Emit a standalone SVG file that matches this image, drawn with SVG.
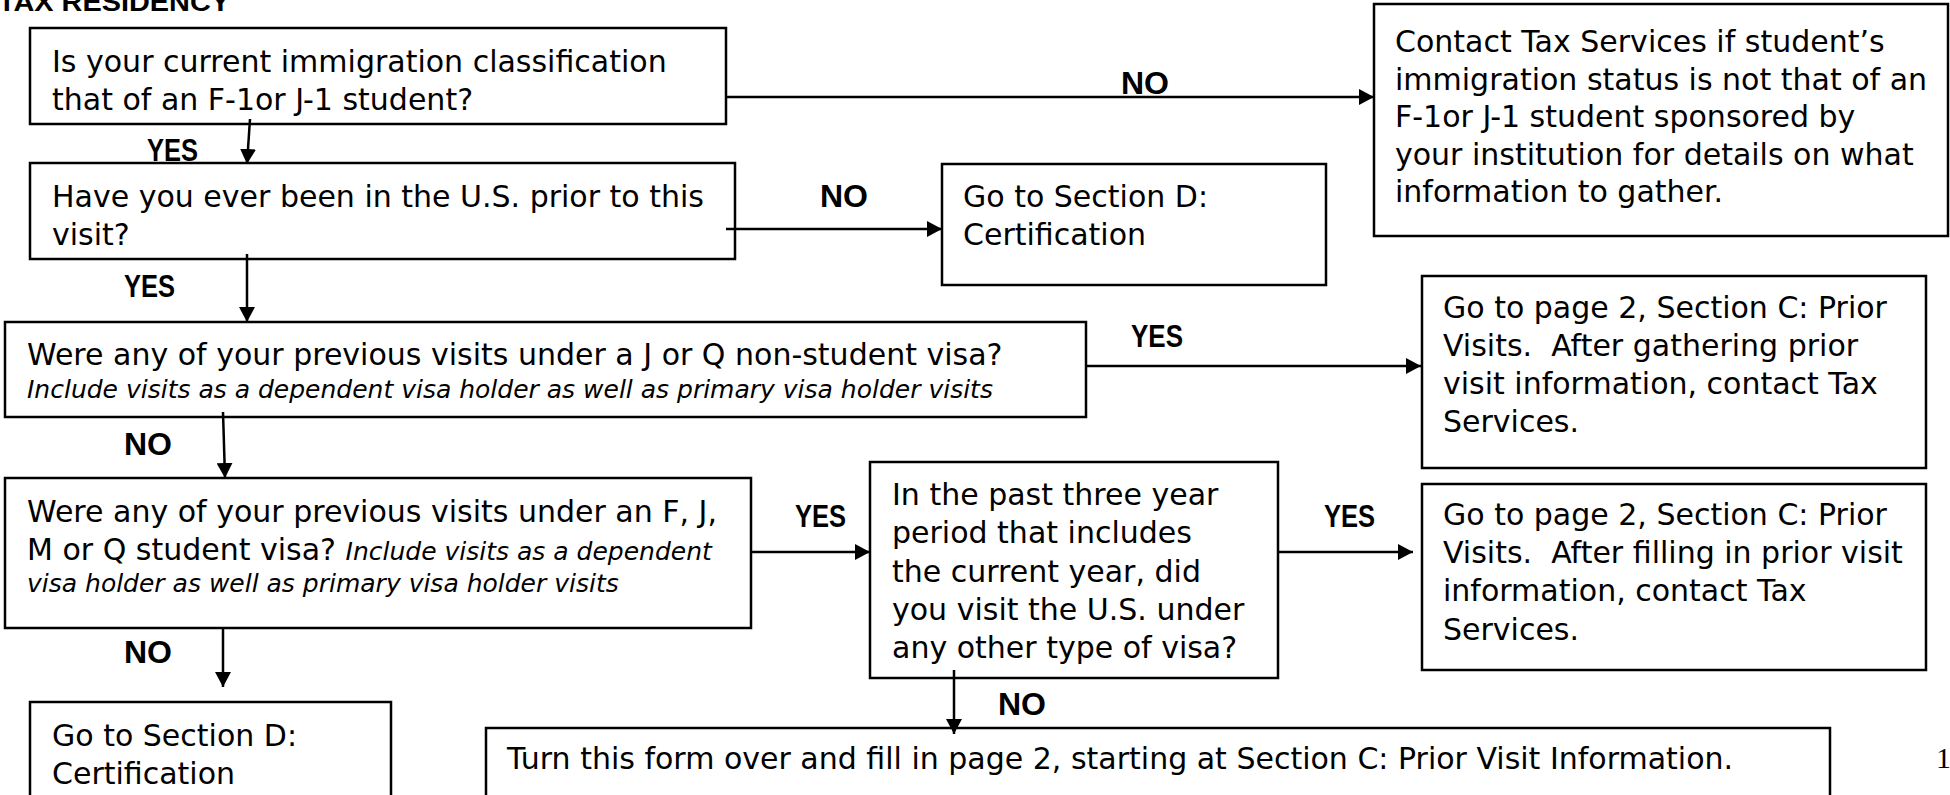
<svg xmlns="http://www.w3.org/2000/svg" width="1950" height="795" viewBox="0 0 1950 795">
<style>
.box{fill:#fff;stroke:#000;stroke-width:2.5}
.t{font-family:"DejaVu Sans","Liberation Sans",sans-serif;font-size:30px;fill:#000}
.i{font-style:italic;font-size:25px}
.lbl{font-family:"Liberation Sans",Arial,sans-serif;font-weight:bold;font-size:31px;fill:#000}
.conn{stroke:#000;stroke-width:2.5;fill:none;marker-end:url(#arr)}
.title{font-family:"Liberation Sans",Arial,sans-serif;font-weight:bold;font-size:26px;fill:#000}
.pg{font-family:"Liberation Serif","Times New Roman",serif;font-size:30px;fill:#000}
</style>
<defs>
<marker id="arr" markerUnits="userSpaceOnUse" markerWidth="16" markerHeight="16" viewBox="0 0 16 16" refX="15" refY="8" orient="auto">
<path d="M0,0 L15,8 L0,16 z" fill="#000"/>
</marker>
</defs>
<rect width="1950" height="795" fill="#fff"/>
<text class="title" x="-2" y="11" textLength="232" lengthAdjust="spacingAndGlyphs">TAX RESIDENCY</text>

<g id="q1">
<rect class="box" x="30" y="28" width="696" height="96"/>
<text class="t" x="52" y="72">Is your current immigration classification</text>
<text class="t" x="52" y="110">that of an F-1or J-1 student?</text>
</g>

<g id="contact">
<rect class="box" x="1374" y="4" width="574" height="232"/>
<text class="t" x="1395" y="52">Contact Tax Services if student’s</text>
<text class="t" x="1395" y="89.5">immigration status is not that of an</text>
<text class="t" x="1395" y="127">F-1or J-1 student sponsored by</text>
<text class="t" x="1395" y="164.5">your institution for details on what</text>
<text class="t" x="1395" y="202">information to gather.</text>
</g>

<g id="q2">
<rect class="box" x="30" y="163" width="705" height="96"/>
<text class="t" x="52" y="207">Have you ever been in the U.S. prior to this</text>
<text class="t" x="52" y="245">visit?</text>
</g>

<g id="certA">
<rect class="box" x="942" y="164" width="384" height="121"/>
<text class="t" x="963" y="207">Go to Section D:</text>
<text class="t" x="963" y="245">Certification</text>
</g>

<g id="q3">
<rect class="box" x="5" y="322" width="1081" height="95"/>
<text class="t" x="27" y="365">Were any of your previous visits under a J or Q non-student visa?</text>
<text class="t i" x="27" y="398">Include visits as a dependent visa holder as well as primary visa holder visits</text>
</g>

<g id="gather">
<rect class="box" x="1422" y="276" width="504" height="192"/>
<text class="t" x="1443" y="318">Go to page 2, Section C: Prior</text>
<text class="t" x="1443" y="356">Visits.&#160; After gathering prior</text>
<text class="t" x="1443" y="394">visit information, contact Tax</text>
<text class="t" x="1443" y="432">Services.</text>
</g>

<g id="q4">
<rect class="box" x="5" y="478" width="746" height="150"/>
<text class="t" x="27" y="522">Were any of your previous visits under an F, J,</text>
<text class="t" x="27" y="560">M or Q student visa? <tspan class="i">Include visits as a dependent</tspan></text>
<text class="t i" x="27" y="592">visa holder as well as primary visa holder visits</text>
</g>

<g id="q5">
<rect class="box" x="870" y="462" width="408" height="216"/>
<text class="t" x="892" y="505">In the past three year</text>
<text class="t" x="892" y="543">period that includes</text>
<text class="t" x="892" y="582">the current year, did</text>
<text class="t" x="892" y="620">you visit the U.S. under</text>
<text class="t" x="892" y="658">any other type of visa?</text>
</g>

<g id="filling">
<rect class="box" x="1422" y="484" width="504" height="186"/>
<text class="t" x="1443" y="525">Go to page 2, Section C: Prior</text>
<text class="t" x="1443" y="563">Visits.&#160; After filling in prior visit</text>
<text class="t" x="1443" y="601">information, contact Tax</text>
<text class="t" x="1443" y="640">Services.</text>
</g>

<g id="certB">
<rect class="box" x="30" y="702" width="361" height="110"/>
<text class="t" x="52" y="746">Go to Section D:</text>
<text class="t" x="52" y="784">Certification</text>
</g>

<g id="turn">
<rect class="box" x="486" y="728" width="1344" height="90"/>
<text class="t" x="507" y="769">Turn this form over and fill in page 2, starting at Section C: Prior Visit Information.</text>
</g>

<text class="pg" x="1936" y="768">1</text>

<g id="connectors">
<path class="conn" d="M726,97 L1374,97"/>
<path class="conn" d="M250,119 L247,164"/>
<path class="conn" d="M726,229 L942,229"/>
<path class="conn" d="M247,254 L247,322"/>
<path class="conn" d="M1086,366 L1421,366"/>
<path class="conn" d="M223,412 L225,478"/>
<path class="conn" d="M751,552 L870,552"/>
<path class="conn" d="M1278,552 L1413,552"/>
<path class="conn" d="M223,628 L223,687"/>
<path class="conn" d="M954,670 L954,734"/>
</g>

<g id="labels">
<text class="lbl" x="147" y="161" textLength="51" lengthAdjust="spacingAndGlyphs">YES</text>
<text class="lbl" x="124" y="297" textLength="51" lengthAdjust="spacingAndGlyphs">YES</text>
<text class="lbl" x="124" y="455" textLength="48" lengthAdjust="spacingAndGlyphs">NO</text>
<text class="lbl" x="124" y="663" textLength="48" lengthAdjust="spacingAndGlyphs">NO</text>
<text class="lbl" x="1121" y="94" textLength="48" lengthAdjust="spacingAndGlyphs">NO</text>
<text class="lbl" x="820" y="207" textLength="48" lengthAdjust="spacingAndGlyphs">NO</text>
<text class="lbl" x="1131" y="347" textLength="52" lengthAdjust="spacingAndGlyphs">YES</text>
<text class="lbl" x="795" y="527" textLength="51" lengthAdjust="spacingAndGlyphs">YES</text>
<text class="lbl" x="1324" y="527" textLength="51" lengthAdjust="spacingAndGlyphs">YES</text>
<text class="lbl" x="998" y="715" textLength="48" lengthAdjust="spacingAndGlyphs">NO</text>
</g>
</svg>
